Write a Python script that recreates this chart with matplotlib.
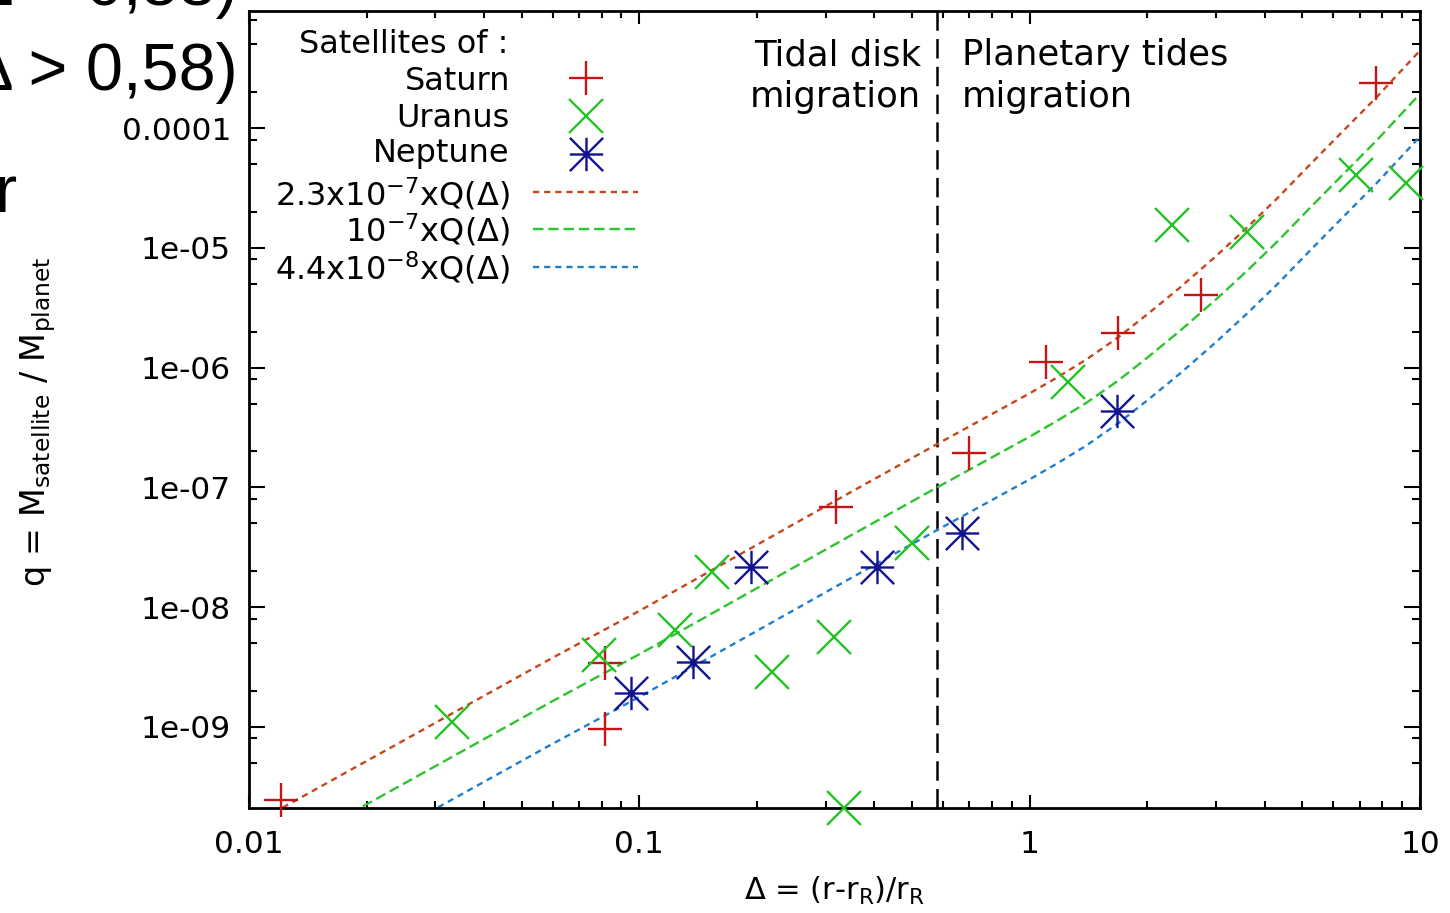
import matplotlib
matplotlib.use('Agg')
import matplotlib.pyplot as plt
import numpy as np
from matplotlib.path import Path
from matplotlib.lines import Line2D
from matplotlib.ticker import FixedLocator, FixedFormatter, NullFormatter

# satellites: delta = (r - rR)/rR, q = Msat/Mplanet
saturn_delta = [0.0121, 0.0817, 0.0817, 0.319, 0.700, 1.10, 1.685, 2.75, 7.72]
saturn_q = [2.46e-10, 3.42e-9, 9.6e-10, 6.86e-8, 1.94e-7, 1.11e-6, 1.94e-6, 4.04e-6, 2.37e-4]

uranus_delta = [0.0331, 0.0788, 0.1235, 0.1536, 0.219, 0.315, 0.3345, 0.4996, 1.255, 2.317, 3.61, 6.86, 9.21]
uranus_q = [1.10e-9, 3.99e-9, 6.45e-9, 1.97e-8, 2.88e-9, 5.64e-9, 2.1e-10, 3.44e-8, 7.58e-7, 1.55e-5, 1.35e-5, 4.05e-5, 3.47e-5]

neptune_delta = [0.0952, 0.1373, 0.1933, 0.406, 0.671, 1.675]
neptune_q = [1.92e-9, 3.49e-9, 2.17e-8, 2.17e-8, 4.16e-8, 4.34e-7]

# Q(delta)
curve_delta = [0.0122, 0.0587, 0.1, 0.345, 0.586, 0.7, 0.835, 1.0, 1.19, 1.4, 1.69, 2.02,
               2.42, 3.0, 3.61, 4.3, 5.2, 6.3, 7.72, 10.0]
curve_Q = [9.2e-4, 0.0158, 0.0404, 0.39, 1.02, 1.4, 1.92, 2.65, 3.68, 5.1, 7.83, 12.4,
           20.1, 37, 64.5, 112, 212, 400, 780, 1930]
curve_coefs = [2.3e-7, 1e-7, 4.4e-8]
curve_labels = [r'2.3x10$^{\mathregular{-7}}$xQ($\Delta$)',
                r'10$^{\mathregular{-7}}$xQ($\Delta$)',
                r'4.4x10$^{\mathregular{-8}}$xQ($\Delta$)']
delta_limit = 0.58

x_ticks = [0.01, 0.1, 1, 10]
x_tick_labels = ['0.01', '0.1', '1', '10']
y_ticks = [1e-9, 1e-8, 1e-7, 1e-6, 1e-5, 1e-4]
y_tick_labels = ['1e-09', '1e-08', '1e-07', '1e-06', '1e-05', '0.0001']

saturn_color = '#c41414'
uranus_color = '#22c322'
neptune_color = '#12128f'
curve_colors = ['#c8461c', '#2ec42e', '#1f7fcf']
curve_dashes = [(0, (4.5, 3.5)), (0, (7.5, 3.5)), (0, (4.5, 3.5))]

plt.rcParams['lines.scale_dashes'] = False
plt.rcParams['mathtext.fontset'] = 'dejavusans'
plt.rcParams['font.family'] = 'DejaVu Sans'

W, H = 1450, 913
fig = plt.figure(figsize=(14.5, 9.13), dpi=100)
ax = fig.add_axes([249 / W, 1 - 808 / H, (1420 - 249) / W, (808 - 11) / H])


def fx(px):
    return px / W


def fy(py):
    return 1 - py / H


# asterisk marker (plus + cross)
star = Path([(-1, 0), (1, 0), (0, -1), (0, 1), (-1, -1), (1, 1), (-1, 1), (1, -1)],
            [Path.MOVETO, Path.LINETO] * 4)

for coef, col, ds in zip(curve_coefs, curve_colors, curve_dashes):
    ax.plot(curve_delta, np.array(curve_Q) * coef, color=col, lw=1.7, ls=ds, zorder=2)

ax.axvline(delta_limit, color='black', lw=1.8, ls=(0, (14, 6)), zorder=1)

mk = dict(ls='none', ms=24, mew=1.7, clip_on=False, zorder=3)
ax.plot(saturn_delta, saturn_q, marker='+', color=saturn_color, **mk)
ax.plot(uranus_delta, uranus_q, marker='x', color=uranus_color, **mk)
ax.plot(neptune_delta, neptune_q, marker=star, color=neptune_color, mfc='none', **mk)

ax.set_xscale('log')
ax.set_yscale('log')
ax.set_xlim(0.01, 10)
ax.set_ylim(2.1e-10, 9.5e-4)

ax.xaxis.set_major_locator(FixedLocator(x_ticks))
ax.xaxis.set_major_formatter(FixedFormatter(x_tick_labels))
ax.yaxis.set_major_locator(FixedLocator(y_ticks))
ax.yaxis.set_major_formatter(FixedFormatter(y_tick_labels))
x_minor = [m * 10.0 ** e for e in range(-2, 1) for m in range(2, 10)]
y_minor = [m * 10.0 ** e for e in range(-10, -3) for m in (2, 5, 8)]
ax.xaxis.set_minor_locator(FixedLocator(x_minor))
ax.yaxis.set_minor_locator(FixedLocator(y_minor))
ax.xaxis.set_minor_formatter(NullFormatter())
ax.yaxis.set_minor_formatter(NullFormatter())

ax.tick_params(which='both', direction='in', top=True, right=True, width=1.5, colors='black')
ax.tick_params(axis='x', which='major', length=9.5, pad=16, labelsize=22.5)
ax.tick_params(axis='x', which='minor', length=5)
ax.tick_params(axis='y', which='major', length=11.5, pad=13, labelsize=22.5)
ax.tick_params(axis='y', which='minor', length=5.8)
for s in ax.spines.values():
    s.set_linewidth(2.0)

# axis labels
fig.text(fx(38), fy(422), r'q = M$_{\mathregular{satellite}}$ / M$_{\mathregular{planet}}$',
         rotation=90, ha='center', va='center', fontsize=24)
fig.text(fx(835), fy(900), r'$\Delta$ = (r-r$_{\mathregular{R}}$)/r$_{\mathregular{R}}$',
         ha='center', va='baseline', fontsize=22)

# regime annotations
fig.text(fx(921), fy(38), 'Tidal disk\nmigration', ha='right', va='top', fontsize=25.5, linespacing=1.3)
fig.text(fx(962), fy(38), 'Planetary tides\nmigration', ha='left', va='top', fontsize=25.5, linespacing=1.3)

# legend, gnuplot style: text right aligned, sample on the right
leg_font = 23
fig.text(fx(508), fy(53), 'Satellites of :', ha='right', va='baseline', fontsize=leg_font)
legend_rows = [('Saturn', 90, 78, '+', saturn_color),
               ('Uranus', 127, 116, 'x', uranus_color),
               ('Neptune', 162, 154, star, neptune_color)]
for label, base, cy, m, col in legend_rows:
    fig.text(fx(510), fy(base), label, ha='right', va='baseline', fontsize=leg_font)
    fig.add_artist(Line2D([fx(586)], [fy(cy)], transform=fig.transFigure, marker=m,
                          ms=24, mew=1.7, color=col, mfc='none', ls='none'))
for label, base, cy, col, ds in zip(curve_labels, [205, 242, 280], [192, 229, 267],
                                    curve_colors, curve_dashes):
    fig.text(fx(510), fy(base), label, ha='right', va='baseline', fontsize=leg_font)
    fig.add_artist(Line2D([fx(533), fx(638)], [fy(cy), fy(cy)], transform=fig.transFigure,
                          color=col, lw=1.7, ls=ds))

# slide text around the plot, cut by the picture edge
fig.text(fx(238), fy(5), '(\u0394 < 0,58)', ha='right', va='baseline', fontsize=48,
         family='Liberation Sans')
fig.text(fx(238), fy(90), '(\u0394 > 0,58)', ha='right', va='baseline', fontsize=48,
         family='Liberation Sans')
fig.text(fx(17), fy(212), 'r', ha='right', va='baseline', fontsize=48, family='Liberation Sans')

fig.savefig('out.png', dpi=100, facecolor='white')
